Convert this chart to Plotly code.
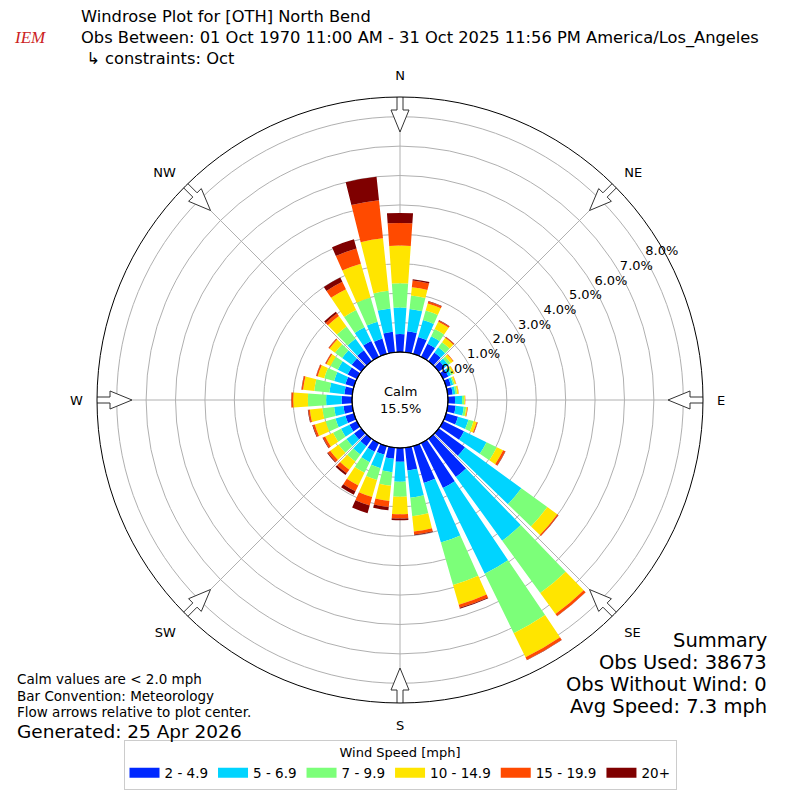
import math
import plotly.graph_objects as go

# direction bins (deg, wind from) and percent of obs in each speed bin
directions = list(range(0, 360, 10))
speed_labels = ["2 - 4.9", "5 - 6.9", "7 - 9.9", "10 - 14.9", "15 - 19.9", "20+"]
speed_colors = ["#0028ff", "#00d4ff", "#7cff79", "#ffe500", "#ff4a00", "#7f0000"]

s2_5 = [0.61, 0.72, 0.60, 0.50, 0.36, 0.25, 0.20, 0.17, 0.17, 0.24, 0.27, 0.42,
        0.79, 1.10, 1.60, 1.70, 1.30, 0.78, 0.47, 0.38, 0.30, 0.33, 0.31, 0.30,
        0.28, 0.30, 0.30, 0.35, 0.27, 0.30, 0.35, 0.40, 0.46, 0.60, 0.54, 0.70]
s5_7 = [0.90, 0.76, 0.60, 0.28, 0.22, 0.15, 0.10, 0.08, 0.09, 0.24, 0.28, 0.37,
        0.85, 2.37, 2.68, 3.24, 2.11, 0.93, 0.68, 0.46, 0.48, 0.39, 0.35, 0.32,
        0.32, 0.35, 0.32, 0.53, 0.51, 0.40, 0.37, 0.40, 0.48, 0.52, 0.60, 0.80]
s7_10 = [0.83, 0.46, 0.33, 0.27, 0.22, 0.10, 0.07, 0.05, 0.06, 0.07, 0.08, 0.18,
         0.39, 1.09, 2.20, 2.25, 1.50, 0.63, 0.51, 0.46, 0.42, 0.40, 0.29, 0.33,
         0.30, 0.35, 0.40, 0.62, 0.52, 0.35, 0.28, 0.30, 0.52, 0.65, 0.85, 0.60]
s10_15 = [1.28, 0.28, 0.25, 0.28, 0.18, 0.10, 0.06, 0.05, 0.05, 0.03, 0.04, 0.11,
          0.24, 0.42, 0.88, 0.91, 0.70, 0.52, 0.59, 0.52, 0.60, 0.48, 0.35, 0.35,
          0.30, 0.38, 0.43, 0.50, 0.38, 0.23, 0.15, 0.23, 0.44, 0.79, 1.20, 1.80]
s15_20 = [0.77, 0.23, 0.07, 0.05, 0.04, 0.02, 0.01, 0.01, 0.01, 0.01, 0.02, 0.03,
          0.08, 0.04, 0.09, 0.10, 0.11, 0.11, 0.15, 0.21, 0.30, 0.22, 0.15, 0.10,
          0.08, 0.07, 0.05, 0.06, 0.05, 0.05, 0.04, 0.04, 0.11, 0.28, 0.54, 1.30]
s20 = [0.34, 0.05, 0.02, 0.01, 0.01, 0.00, 0.00, 0.00, 0.00, 0.00, 0.00, 0.01,
       0.01, 0.01, 0.01, 0.01, 0.03, 0.02, 0.06, 0.11, 0.27, 0.13, 0.07, 0.03,
       0.02, 0.02, 0.02, 0.01, 0.01, 0.01, 0.01, 0.01, 0.07, 0.16, 0.32, 0.80]
speed_bins = [s2_5, s5_7, s7_10, s10_15, s15_20, s20]

compass_angles = [0, 45, 90, 135, 180, 225, 270, 315]
compass_names = ["N", "NE", "E", "SE", "S", "SW", "W", "NW"]
ring_ticks = [0, 1, 2, 3, 4, 5, 6, 7, 8]
ring_text = ["%.1f%%" % v for v in ring_ticks]
calm_pct = 15.5

title_lines = ["Windrose Plot for [OTH] North Bend",
               "Obs Between: 01 Oct 1970 11:00 AM - 31 Oct 2025 11:56 PM America/Los_Angeles",
               " \u21b3 constraints: Oct"]
notes = ["Calm values are < 2.0 mph", "Bar Convention: Meteorology",
         "Flow arrows relative to plot center."]
generated = "Generated: 25 Apr 2026"
summary = ["Summary", "Obs Used: 38673", "Obs Without Wind: 0", "Avg Speed: 7.3 mph"]

FONT = "DejaVu Sans"
W = H = 800
CX, CY = 400, 400
R_OUT = 303      # px, outer ring
R_HOLE = 48      # px, calm circle
RMAX = 8.67
px_per = (R_OUT - R_HOLE) / RMAX

fig = go.Figure()
for vals, lab, col in zip(speed_bins, speed_labels, speed_colors):
    fig.add_trace(go.Barpolar(r=vals, theta=directions, width=8, name=lab,
                              showlegend=False,
                              marker=dict(color=col, line=dict(width=0))))


# hollow flow arrows straddling the outer ring
def arrow(d):
    pts = [(307, -3), (290, -3), (290, -9), (268, 0), (290, 9), (290, 3), (307, 3), (307, -3)]
    rr, tt = [], []
    for u, v in pts:
        rr.append((math.hypot(u, v) - R_HOLE) / px_per)
        tt.append(d + math.degrees(math.atan2(v, u)))
    return rr, tt


for d in compass_angles:
    rr, tt = arrow(d)
    fig.add_trace(go.Scatterpolar(r=rr, theta=tt, mode="lines", fill="toself",
                                  fillcolor="white", line=dict(color="#333333", width=1),
                                  cliponaxis=False, showlegend=False, hoverinfo="skip"))

# ring labels, matplotlib style: just up-right of each ring at 30 deg above east
fig.add_trace(go.Scatterpolar(r=ring_ticks, theta=[60] * len(ring_ticks),
                              mode="text", text=ring_text, textposition="top right",
                              textfont=dict(size=13, color="black"), cliponaxis=False,
                              showlegend=False, hoverinfo="skip"))

# legend entries drawn as wide flat patches like the original
for lab, col in zip(speed_labels, speed_colors):
    fig.add_trace(go.Scatterpolar(r=[None], theta=[None], mode="lines", name=lab,
                                  line=dict(color=col, width=10)))

dom = [(CX - R_OUT) / W, (CX + R_OUT) / W]
fig.update_layout(
    width=W, height=H,
    margin=dict(l=0, r=0, t=0, b=0),
    paper_bgcolor="white",
    font=dict(family=FONT, color="black", size=13),
    polar=dict(
        domain=dict(x=dom, y=dom),
        hole=R_HOLE / R_OUT,
        bgcolor="white",
        barmode="stack",
        radialaxis=dict(range=[0, RMAX], tickmode="array", tickvals=ring_ticks,
                        ticktext=ring_text, showticklabels=False, showline=False,
                        ticks="", angle=30, gridcolor="#b0b0b0", gridwidth=1,
                        layer="above traces"),
        angularaxis=dict(rotation=90, direction="clockwise", tickmode="array",
                         tickvals=compass_angles, ticktext=compass_names,
                         showline=True, linecolor="black", linewidth=1,
                         gridcolor="#b0b0b0", gridwidth=1, ticks="outside",
                         ticklen=11, tickcolor="rgba(0,0,0,0)",
                         layer="above traces", tickfont=dict(size=13)),
    ),
    legend=dict(orientation="h", x=0.5, xanchor="center", y=0.013, yanchor="bottom",
                title=dict(text="Wind Speed [mph]", side="top center", font=dict(size=13)),
                bordercolor="#cccccc", borderwidth=1, font=dict(size=13.5),
                traceorder="normal"),
    shapes=[dict(type="circle", xref="paper", yref="paper",
                 x0=(CX - R_HOLE) / W, x1=(CX + R_HOLE) / W,
                 y0=(CY - R_HOLE) / H, y1=(CY + R_HOLE) / H,
                 line=dict(color="black", width=1.2))],
)

ann = []
ann.append(dict(text="<br>".join(title_lines), x=80 / W, y=1 - 37 / H, xref="paper",
                yref="paper", xanchor="left", yanchor="middle", align="left",
                showarrow=False, borderpad=0, font=dict(size=16.3)))
ann.append(dict(text="<i>IEM</i>", x=30 / W, y=1 - 38 / H, xref="paper", yref="paper",
                xanchor="center", yanchor="middle", showarrow=False,
                font=dict(size=17, color="#cc2222", family="Liberation Serif")))
ann.append(dict(text="Calm<br>%.1f%%" % calm_pct, x=0.5, y=0.5, xref="paper", yref="paper",
                xanchor="center", yanchor="middle", showarrow=False, font=dict(size=13)))
for i, t in enumerate(notes):
    ann.append(dict(text=t, x=16 / W, y=1 - (679 + 16.5 * i) / H, xref="paper", yref="paper",
                    xanchor="left", yanchor="middle", showarrow=False, borderpad=0,
                    font=dict(size=13.5)))
ann.append(dict(text=generated, x=16 / W, y=1 - 731 / H, xref="paper", yref="paper",
                xanchor="left", yanchor="middle", showarrow=False, borderpad=0,
                font=dict(size=18.5)))
for i, t in enumerate(summary):
    ann.append(dict(text=t, x=768 / W, y=1 - (640 + 22 * i) / H, xref="paper", yref="paper",
                    xanchor="right", yanchor="middle", showarrow=False, borderpad=0,
                    font=dict(size=19.5)))
fig.update_layout(annotations=ann)

fig.write_html("out.html", config={"displayModeBar": False},
               post_script="document.body.style.margin='0';")
